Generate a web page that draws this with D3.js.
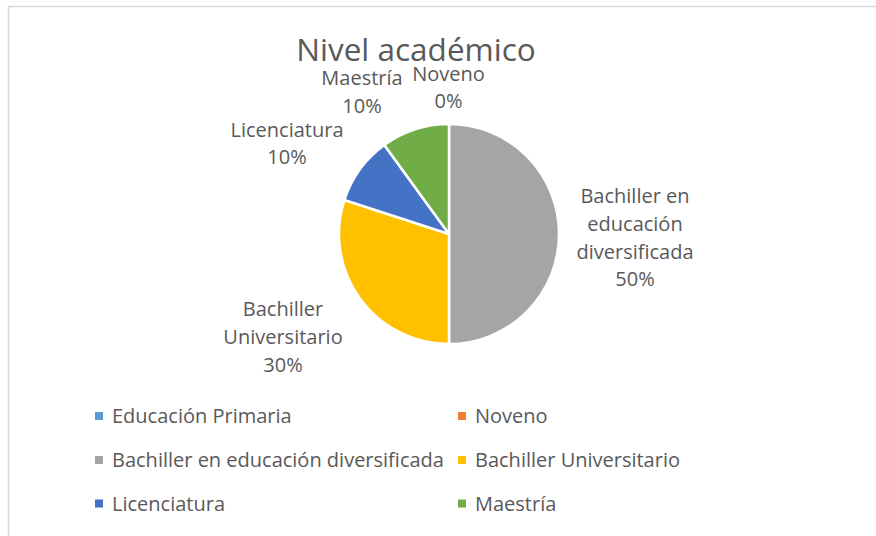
<!DOCTYPE html>
<html>
<head>
<meta charset="utf-8">
<script src="https://cdn.jsdelivr.net/npm/d3@7"></script>
<style>
  html, body { margin: 0; padding: 0; background: #fff; }
  svg { display: block; }
  text { font-family: "Open Sans", "Noto Sans", sans-serif; fill: #595959; }
</style>
</head>
<body>
<svg id="chart" width="876" height="536"></svg>
<script>
// ---- data ----
const title = "Nivel académico";
const categories = ["Educación Primaria", "Noveno", "Bachiller en educación diversificada", "Bachiller Universitario", "Licenciatura", "Maestría"];
const values = [0, 0, 5, 3, 1, 1];
const colors = ["#5B9BD5", "#ED7D31", "#A5A5A5", "#FFC000", "#4472C4", "#70AD47"];
// data label text lines (as wrapped in the chart); null = label hidden
const labelLines = [
  null,
  ["Noveno"],
  ["Bachiller en", "educación", "diversificada"],
  ["Bachiller", "Universitario"],
  ["Licenciatura"],
  ["Maestría"]
];

// ---- layout ----
const W = 876, H = 536;
const cx = 449, cy = 234, R = 110;
// label block anchor: center x and first baseline y
const labelLayout = [
  null,
  { x: 448.5, y: 80.5 },
  { x: 635, y: 203 },
  { x: 283, y: 316 },
  { x: 287, y: 136.5 },
  { x: 362, y: 85 }
];
const lineH = 27.8;

const svg = d3.select("#chart");

// chart border
svg.append("rect")
  .attr("x", 8.5).attr("y", 6.5)
  .attr("width", W).attr("height", H)
  .attr("fill", "none")
  .attr("stroke", "#d9d9d9")
  .attr("stroke-width", 1.5);

// title
svg.append("text")
  .attr("x", 416).attr("y", 61)
  .attr("text-anchor", "middle")
  .style("font-size", "31.5px")
  .text(title);

const total = d3.sum(values);
const pie = d3.pie().sort(null).value(d => d)(values);
const arc = d3.arc().innerRadius(0).outerRadius(R);

const g = svg.append("g").attr("transform", `translate(${cx},${cy})`);
g.selectAll("path")
  .data(pie)
  .join("path")
  .attr("d", arc)
  .attr("fill", (d, i) => colors[i])
  .attr("stroke", "#fff")
  .attr("stroke-width", 2.5)
  .attr("stroke-linejoin", "round");

// data labels
const pct = d3.format(".0%");
pie.forEach((d, i) => {
  if (!labelLines[i]) return;
  const lines = labelLines[i].concat([pct(values[i] / total)]);
  const t = svg.append("text")
    .attr("text-anchor", "middle")
    .style("font-size", "20px");
  lines.forEach((ln, k) => {
    t.append("tspan")
      .attr("x", labelLayout[i].x)
      .attr("y", labelLayout[i].y + k * lineH)
      .text(ln);
  });
});

// legend (2 columns)
const legX = [95, 458], legY = [412, 456, 499.5];
const leg = svg.append("g");
categories.forEach((c, i) => {
  const col = i % 2, row = Math.floor(i / 2);
  leg.append("rect")
    .attr("x", legX[col]).attr("y", legY[row])
    .attr("width", 8).attr("height", 8)
    .attr("fill", colors[i]);
  leg.append("text")
    .attr("x", legX[col] + 17).attr("y", legY[row] + 11)
    .style("font-size", "20px")
    .text(c);
});
</script>
</body>
</html>
